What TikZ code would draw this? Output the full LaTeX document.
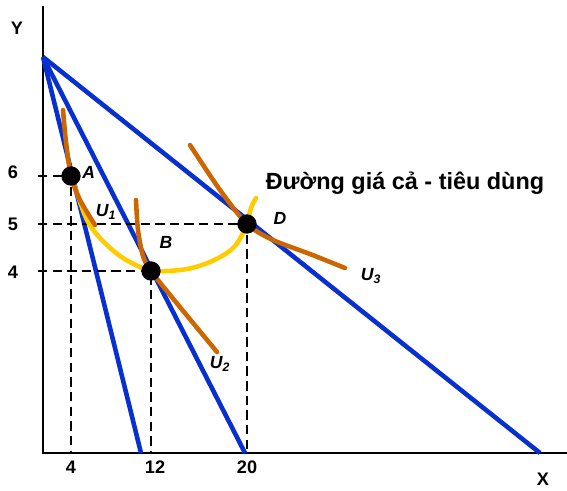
\documentclass[tikz,border=0pt]{standalone}
\usepackage{fontspec}
\setmainfont{Liberation Sans}
\usetikzlibrary{positioning}

\definecolor{budgetblue}{RGB}{8,48,208}
\definecolor{curveorange}{RGB}{204,102,0}
\definecolor{pccyellow}{RGB}{255,204,0}

\begin{document}
\begin{tikzpicture}[
        x = 0.03cm, y = -0.03cm,
        axis/.style = {draw = black, line width = 2pt},
        budget/.style = {draw = budgetblue, line width = 3.9pt},
        indiff/.style = {draw = curveorange, line width = 3.9pt, line cap = round},
        pcc/.style = {draw = pccyellow, line width = 3.9pt, line cap = round},
        guide/.style = {draw = black, line width = 1.9pt, dash pattern = on 8pt off 4.5pt},
        dot/.style = {circle, fill = black, minimum size = 16.5pt, inner sep = 0pt},
        tick/.style = {font = \fontsize{15.5}{18}\selectfont\bfseries},
        ptlabel/.style = {font = \fontsize{15}{18}\selectfont\bfseries\itshape, inner sep = 1pt}
    ]
      \useasboundingbox (0,0) rectangle (567,490);

      % axes
      \coordinate (O) at (43,453);
      \coordinate (ytop) at (43,6);
      \coordinate (xend) at (567,453);
      \draw[axis] (ytop) -- (O) -- (xend);
      \node[tick] (ylab) at (17,28) {Y};
      \node[tick] (xlab) at (543,479) {X};

      % budget lines
      \coordinate (pivot) at (43,57);
      \coordinate (b1) at (141,453);
      \coordinate (b2) at (245,453);
      \coordinate (b3) at (540,453);
      \draw[budget] (pivot) -- (b1);
      \draw[budget] (pivot) -- (b2);
      \draw[budget] (pivot) -- (b3);

      % optimum points
      \coordinate (A) at (71,176);
      \coordinate (B) at (151,271);
      \coordinate (D) at (247,224);
      \coordinate (yaxisleft) at (38,453);

      \draw[guide] (A -| yaxisleft) -- (A) -- (A |- O);
      \draw[guide] (B -| yaxisleft) -- (B) -- (B |- O);
      \draw[guide] (D -| yaxisleft) -- (D) -- (D |- O);

      % price-consumption curve
      \draw[pcc] plot[smooth, tension = 0.6] coordinates {
        (71,176) (77,193) (87,220) (100,238) (120,256) (140,267) (151,271)
        (180,270) (202,265) (222,256) (235,246) (243,233) (247,224) (251,208) (256,198)};

      % indifference curves
      \draw[indiff] plot[smooth] coordinates {(63,110) (66,142) (71,176) (80,200) (95,225)};
      \draw[indiff] plot[smooth] coordinates {(136,200) (138,230) (143,256) (151,271) (175,301) (217,352)};
      \draw[indiff] plot[smooth] coordinates {(190,145) (220,190) (247,224) (273,240) (310,254) (345,268)};

      \node[dot] (ptA) at (A) {};
      \node[dot] (ptB) at (B) {};
      \node[dot] (ptD) at (D) {};

      \node[ptlabel, right = 0pt of ptA, yshift = 3pt] (labA) {A};
      \node[ptlabel] (labB) at (166,242) {B};
      \node[ptlabel, right = 13pt of ptD, yshift = 5pt] (labD) {D};
      \node[ptlabel] (labU1) at (106,212) {U\textsubscript{1}};
      \node[ptlabel] (labU2) at (220,364) {U\textsubscript{2}};
      \node[ptlabel] (labU3) at (371,276) {U\textsubscript{3}};

      % axis values
      \node[tick] (y6) at (13,172) {6};
      \node[tick] (y5) at (13,224) {5};
      \node[tick] (y4) at (13,272) {4};
      \node[tick] (x4) at (71,467) {4};
      \node[tick] (x12) at (155,467) {12};
      \node[tick] (x20) at (247,467) {20};

      \node[font = \fontsize{20}{24}\selectfont\bfseries] (pcclab) at (405,183) {Đường giá cả - tiêu dùng};
\end{tikzpicture}
\end{document}
